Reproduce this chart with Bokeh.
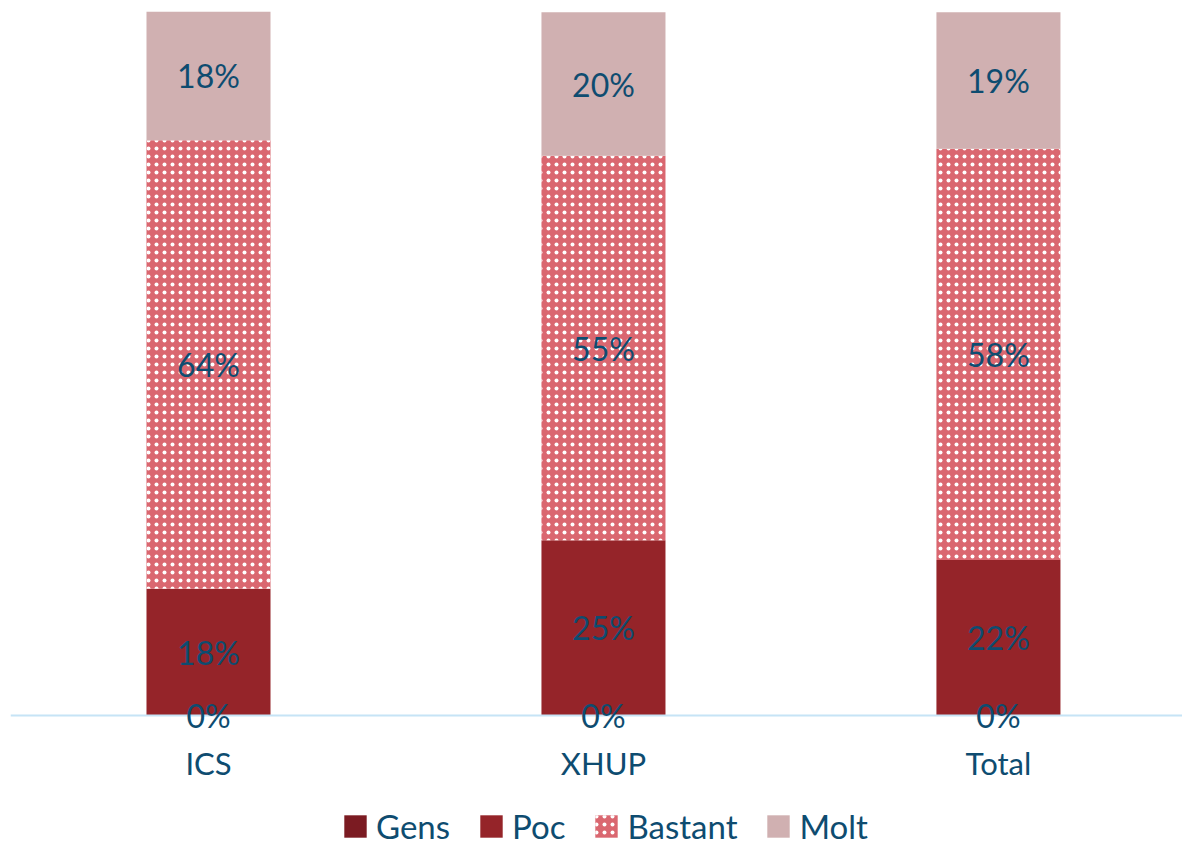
from bokeh.plotting import figure
from bokeh.models import ColumnDataSource, Range1d, Legend, LegendItem, LabelSet, Span
from bokeh.core.properties import value
from bokeh.embed import file_html
from bokeh.resources import INLINE

categories = ["ICS", "XHUP", "Total"]
series = ["Gens", "Poc", "Bastant", "Molt"]
gens = [0.0, 0.0, 0.0]
poc = [18.0, 24.9, 22.1]
bastant = [63.7, 54.6, 58.4]
molt = [18.3, 20.4, 19.4]

colors = ["#7B1B22", "#952429", "#DA6770", "#D0B0B1"]
hatches = [" ", " ", ".", " "]
TEXT = "#0E4C70"
FONT = "Lato"

xs = list(range(len(categories)))
data = {"x": xs, "Gens": gens, "Poc": poc, "Bastant": bastant, "Molt": molt}
src = ColumnDataSource(data)

p = figure(frame_width=1172, frame_height=835, output_backend="svg", toolbar_location=None,
           x_range=Range1d(-0.5013, 2.466), y_range=Range1d(-18.6, 100),
           min_border_left=10, min_border_right=0, min_border_top=11, min_border_bottom=0)
p.outline_line_color = None
p.grid.visible = False
p.axis.visible = False
p.background_fill_color = "white"

renderers = p.vbar_stack(series, x="x", width=0.314, source=src,
                         fill_color=colors, line_color=None,
                         hatch_pattern=hatches, hatch_color="white",
                         hatch_scale=8, hatch_weight=2.2)

# category axis baseline
p.add_layout(Span(location=0, dimension="width", line_color="#C6E4F6", line_width=2))

# category labels
csrc = ColumnDataSource(dict(x=xs, y=[0] * len(xs), t=categories))
p.add_layout(LabelSet(x="x", y="y", text="t", source=csrc, y_offset=-47,
                      text_align="center", text_baseline="middle", text_color=TEXT,
                      text_font=value(FONT), text_font_size="31px"))

# value labels at segment midpoints
lx, ly, lt = [], [], []
stacks = [gens, poc, bastant, molt]
for i in xs:
    base = 0.0
    for s in stacks:
        v = s[i]
        lx.append(i)
        ly.append(base + v / 2)
        lt.append(f"{v:.0f}%")
        base += v
lsrc = ColumnDataSource(dict(x=lx, y=ly, t=lt))
p.add_layout(LabelSet(x="x", y="y", text="t", source=lsrc, text_align="center",
                      text_baseline="middle", text_color=TEXT, text_font=value(FONT),
                      text_font_size="32px"))

legend = Legend(items=[LegendItem(label=s, renderers=[r]) for s, r in zip(series, renderers)],
                orientation="horizontal", location=(331, 0),
                label_text_font=FONT, label_text_font_size="33px", label_text_color=TEXT,
                glyph_width=28, glyph_height=28, spacing=27, label_standoff=7,
                border_line_color=None, background_fill_alpha=0, padding=0, margin=0)
p.add_layout(legend)

open("out.html", "w").write(file_html(p, INLINE))
